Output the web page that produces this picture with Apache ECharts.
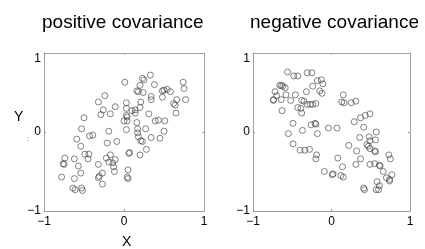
<!DOCTYPE html>
<html><head><meta charset="utf-8">
<script src="https://cdn.jsdelivr.net/npm/echarts@6/dist/echarts.min.js"></script>
<style>html,body{margin:0;padding:0;background:#fff}#c{width:425px;height:249px}</style>
</head><body><div id="c"></div>
<script>
const titles = ['positive covariance', 'negative covariance'];
const axisMin = -1, axisMax = 1, tickStep = 1;
const xName = 'X', yName = 'Y';

const posX = [0.01,0.23,0.25,0.33,0.74,0.20,0.38,0.75,0.16,0.18,
  0.24,0.34,0.34,0.48,0.50,0.54,0.58,0.48,0.66,0.77,
  -0.24,-0.32,-0.11,-0.26,-0.29,-0.17,-0.50,0.03,0.03,0.21,
  0.20,0.10,0.14,0.14,0.62,0.64,0.65,0.31,0.03,0.04,
  0.00,0.04,0.16,0.39,0.43,0.51,-0.53,-0.43,-0.39,-0.19,
  0.03,0.17,0.17,0.27,0.50,-0.59,-0.54,-0.21,-0.09,0.18,
  0.21,0.23,0.34,0.45,0.28,0.06,0.07,0.20,-0.74,-0.76,
  -0.75,-0.62,-0.57,-0.49,-0.44,-0.45,-0.32,-0.22,-0.17,-0.19,
  -0.14,-0.11,-0.13,-0.12,0.05,-0.78,-0.62,-0.54,-0.31,-0.32,
  -0.27,0.04,0.05,-0.64,-0.61,-0.53,-0.52,-0.27];
const posY = [0.63,0.68,0.66,0.72,0.63,0.59,0.60,0.55,0.52,0.51,
  0.50,0.45,0.41,0.52,0.53,0.54,0.51,0.44,0.41,0.41,
  0.46,0.38,0.32,0.28,0.22,0.23,0.18,0.37,0.30,0.38,
  0.31,0.27,0.28,0.24,0.36,0.34,0.24,0.23,0.21,0.19,
  0.14,0.14,0.12,0.14,0.15,0.14,0.04,-0.05,-0.04,0.01,
  0.03,0.04,-0.01,0.04,0.01,-0.09,-0.18,-0.14,-0.12,-0.06,
  -0.11,-0.12,-0.07,-0.08,-0.22,-0.27,-0.26,-0.29,-0.33,-0.40,
  -0.41,-0.34,-0.43,-0.28,-0.28,-0.34,-0.41,-0.33,-0.29,-0.38,
  -0.39,-0.35,-0.44,-0.50,-0.48,-0.57,-0.59,-0.52,-0.56,-0.58,
  -0.52,-0.57,-0.59,-0.71,-0.73,-0.71,-0.74,-0.66];

const negX = [-0.56,-0.48,-0.43,-0.31,-0.25,-0.18,-0.13,-0.11,-0.24,-0.66,
  -0.64,-0.62,-0.59,-0.72,-0.70,-0.58,-0.46,-0.32,-0.15,-0.12,
  -0.74,-0.74,-0.64,-0.52,-0.38,-0.35,-0.31,-0.27,-0.24,-0.20,
  -0.43,-0.39,-0.38,-0.63,0.15,0.13,0.16,0.25,0.31,-0.49,
  -0.26,-0.21,-0.20,-0.37,-0.55,-0.18,-0.04,0.07,0.29,0.37,
  0.43,0.49,0.41,0.57,0.36,0.48,0.49,0.56,-0.49,-0.40,
  -0.34,-0.28,-0.19,-0.20,0.08,0.22,0.32,0.45,0.47,0.49,
  0.55,0.56,0.73,0.75,0.37,0.14,0.31,0.49,0.55,0.61,
  0.62,0.66,-0.09,0.01,0.02,0.12,0.15,0.70,0.77,0.74,
  0.74,0.58,0.61,0.41,0.42,0.57,0.60];
const negY = [0.76,0.71,0.71,0.75,0.75,0.65,0.66,0.61,0.58,0.59,
  0.59,0.58,0.56,0.51,0.46,0.47,0.47,0.51,0.52,0.49,
  0.41,0.40,0.41,0.40,0.40,0.39,0.35,0.35,0.35,0.36,
  0.31,0.30,0.24,0.27,0.47,0.38,0.37,0.37,0.39,0.11,
  0.09,0.11,0.10,0.02,-0.02,-0.02,0.05,0.05,0.13,0.18,
  0.21,0.23,0.06,0.00,-0.07,-0.06,-0.11,-0.10,-0.15,-0.23,
  -0.23,-0.22,-0.29,-0.34,-0.33,-0.17,-0.24,-0.16,-0.18,-0.21,
  -0.24,-0.25,-0.29,-0.34,-0.34,-0.44,-0.41,-0.41,-0.40,-0.42,
  -0.43,-0.50,-0.50,-0.54,-0.53,-0.55,-0.57,-0.58,-0.54,-0.60,
  -0.62,-0.63,-0.68,-0.71,-0.73,-0.73,-0.73];

const zip = (a, b) => a.map((v, i) => [v, b[i]]);
const fmt = v => (v < 0 ? '\u2212' : '') + Math.abs(v);
const FONT = '"Liberation Sans", Arial, Helvetica, sans-serif';
const lineC = '#a0a0a0';

function xAx(gi, pos, showLabel) {
  return {
    type: 'value', gridIndex: gi, position: pos, min: axisMin, max: axisMax, interval: tickStep,
    axisLine: { show: true, onZero: false, lineStyle: { color: lineC, width: 1 } },
    axisTick: { show: true, inside: true, length: 2, lineStyle: { color: lineC } },
    axisLabel: { show: showLabel, color: '#000', fontSize: 12, fontFamily: FONT, margin: 5, formatter: fmt },
    splitLine: { show: false }
  };
}
function yAx(gi, pos, showLabel) {
  return {
    type: 'value', gridIndex: gi, position: pos, min: axisMin, max: axisMax, interval: tickStep,
    axisLine: { show: true, onZero: false, lineStyle: { color: lineC, width: 1 } },
    axisTick: { show: true, inside: true, length: 2, lineStyle: { color: lineC } },
    axisLabel: { show: showLabel, color: '#000', fontSize: 12, fontFamily: FONT, margin: 3, formatter: fmt,
      verticalAlignMaxLabel: 'top' },
    splitLine: { show: false }
  };
}

const chart = echarts.init(document.getElementById('c'), null, { renderer: 'canvas' });
const sym = { color: 'rgba(0,0,0,0)', borderColor: '#3c3c3c', borderWidth: 0.8 };
chart.setOption({
  animation: false,
  backgroundColor: '#fff',
  title: [
    { text: titles[0], left: 37, top: 8, textStyle: { fontSize: 19, fontWeight: 'normal', color: '#000', fontFamily: FONT } },
    { text: titles[1], left: 245, top: 8, textStyle: { fontSize: 19, fontWeight: 'normal', color: '#000', fontFamily: FONT } }
  ],
  grid: [
    { left: 44, top: 53, width: 160, height: 158 },
    { left: 253, top: 53, width: 157, height: 158 }
  ],
  xAxis: [xAx(0, 'bottom', true), xAx(0, 'top', false), xAx(1, 'bottom', true), xAx(1, 'top', false)],
  yAxis: [yAx(0, 'left', true), yAx(0, 'right', false), yAx(1, 'left', true), yAx(1, 'right', false)],
  series: [
    { type: 'scatter', xAxisIndex: 0, yAxisIndex: 0, data: zip(posX, posY), symbol: 'circle', symbolSize: 6, itemStyle: sym, silent: true },
    { type: 'scatter', xAxisIndex: 2, yAxisIndex: 2, data: zip(negX, negY), symbol: 'circle', symbolSize: 6, itemStyle: sym, silent: true }
  ],
  graphic: [
    { type: 'text', left: 14, top: 110, style: { text: yName, fontSize: 14, fill: '#000', fontFamily: FONT } },
    { type: 'text', left: 122, top: 235, style: { text: xName, fontSize: 14, fill: '#000', fontFamily: FONT } },
    { type: 'text', left: 27, top: 135, style: { text: ':', fontSize: 8, fill: '#666', fontFamily: FONT } }
  ]
});
</script></body></html>
